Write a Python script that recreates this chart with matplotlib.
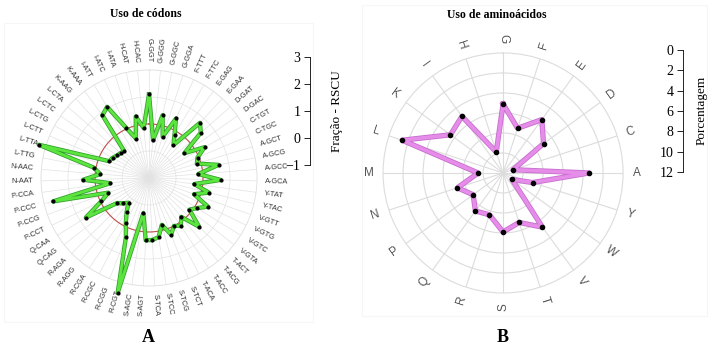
import matplotlib
matplotlib.use('Agg')

import matplotlib.pyplot as plt
import matplotlib.patheffects as pe
import numpy as np

# codon usage (RSCU), clockwise starting at the top
codons = ['G-GGT', 'G-GGG', 'G-GGC', 'G-GGA', 'F-TTT', 'F-TTC', 'E-GAG', 'E-GAA',
          'D-GAT', 'D-GAC', 'C-TGT', 'C-TGC', 'A-GCT', 'A-GCG', 'A-GCC', 'A-GCA',
          'Y-TAT', 'Y-TAC', 'V-GTT', 'V-GTG', 'V-GTC', 'V-GTA', 'T-ACT', 'T-ACG',
          'T-ACC', 'T-ACA', 'S-TCT', 'S-TCG', 'S-TCC', 'S-TCA', 'S-AGT', 'S-AGC',
          'R-CGT', 'R-CGG', 'R-CGC', 'R-CGA', 'R-AGG', 'R-AGA', 'Q-CAG', 'Q-CAA',
          'P-CCT', 'P-CCG', 'P-CCC', 'P-CCA', 'N-AAT', 'N-AAC', 'L-TTG', 'L-TTA',
          'L-CTT', 'L-CTG', 'L-CTC', 'L-CTA', 'K-AAG', 'K-AAA', 'I-ATT', 'I-ATC',
          'I-ATA', 'H-CAT', 'H-CAC']
rscu = [2.10, 0.41, 1.38, 0.61, 1.42, 0.86, 0.52, 1.78,
        1.55, 0.60, 1.35, 0.95, 0.85, 1.62, 0.83, 1.65,
        0.69, 1.28, 0.77, 1.43, 1.10, 0.90, 1.59, 0.87,
        1.13, 1.00, 1.25, 0.80, 1.22, 1.30, 1.31, 0.32,
        3.41, 1.35, 0.86, 0.50, 0.19, 0.35, 0.50, 1.76,
        0.96, 0.60, 2.66, 0.45, 1.44, 0.81, 1.09, 3.26,
        0.60, 0.54, 0.45, 0.40, 0.36, 1.89, 2.06, 1.03,
        0.54, 1.33, 0.86]
rscu_ref = 1.0
rscu_ticks = [3, 2, 1, 0, -1]

# amino acid usage (%), clockwise starting at the top
aminoacids = ['G', 'F', 'E', 'D', 'C', 'A', 'Y', 'W', 'V', 'T',
              'S', 'R', 'Q', 'P', 'N', 'M', 'L', 'K', 'I', 'H']
percent = [6.9, 4.7, 6.6, 5.0, 1.05, 8.6, 3.1, 1.1, 6.7, 5.2,
           5.9, 4.4, 4.7, 3.7, 4.8, 2.5, 10.6, 6.5, 7.0, 2.2]
pct_ticks = [0, 2, 4, 6, 8, 10, 12]

serif = 'Liberation Serif'
sans = 'Liberation Sans'

fig = plt.figure(figsize=(7.12, 3.49), dpi=100)

# faint panel frames
for x0, y0, x1, y1 in [(4, 23, 313, 322), (362, 5, 707, 316)]:
    fig.add_artist(plt.Rectangle((x0 / 712, 1 - y1 / 349), (x1 - x0) / 712,
                                 (y1 - y0) / 349, transform=fig.transFigure,
                                 fill=False, ec='#f6f6f6', lw=0.8))


def radial_labels(ax, labels, r, size, color, centered=False):
    n = len(labels)
    for i, lab in enumerate(labels):
        th = 360.0 * i / n
        if 0 < th < 180:
            rot, ha = 90 - th, 'left'
        else:
            rot, ha = 270 - th, 'right'
        if centered:
            ha = 'center'
        ax.text(np.deg2rad(th), r, lab, rotation=rot, rotation_mode='anchor',
                ha=ha, va='center', fontsize=size, color=color,
                family=sans, clip_on=False)


# ---- left: codons ----
ax1 = fig.add_axes([0.0576, 0.1805, 0.3034, 0.619], projection='polar')
ax1.set_theta_zero_location('N')
ax1.set_theta_direction(-1)
th1 = np.linspace(0, 2 * np.pi, len(codons), endpoint=False)
ax1.set_ylim(-1, 3)
ax1.set_xticks(th1)
ax1.set_xticklabels([])
ax1.set_yticks([0, 1, 2])
ax1.set_yticklabels([])
ax1.grid(True, color='#e2e2e2', lw=0.5)
ax1.spines['polar'].set_color('#dddddd')
ax1.spines['polar'].set_linewidth(0.6)

circ = np.linspace(0, 2 * np.pi, 300)
ax1.plot(circ, np.full_like(circ, rscu_ref), color='#c0504d', lw=0.8)

t1 = np.append(th1, th1[0])
v1 = np.append(rscu, rscu[0])
ax1.plot(t1, v1, color='#5ce43f', lw=2.0, clip_on=False, zorder=4,
         path_effects=[pe.Stroke(linewidth=3.1, foreground='#2f9e2a'), pe.Normal()])
ax1.plot(th1, rscu, 'o', color='black', ms=2.0, clip_on=False, zorder=5)
radial_labels(ax1, codons, 3.3, 5.3, '#333333')

# scale bar RSCU
s1 = fig.add_axes([0.4354, 0.5272, 0.0005, 0.3095])
s1.set_ylim(-1, 3)
s1.set_xticks([])
s1.set_yticks(rscu_ticks)
for sp in ['top', 'bottom', 'right']:
    s1.spines[sp].set_visible(False)
s1.spines['left'].set_linewidth(0.6)
s1.tick_params(axis='y', length=4, width=0.6, labelsize=10, pad=3)
for t in s1.get_yticklabels():
    t.set_family(serif)
fig.text(337 / 712, 1 - 111 / 349, 'Fração - RSCU', rotation=90, ha='center',
         va='center', fontsize=9.5, family=serif)

fig.text(146 / 712, 1 - 14 / 349, 'Uso de códons', ha='center', va='center',
         fontsize=8.5, family=serif, weight='bold')
fig.text(148 / 712, 1 - 338 / 349, 'A', ha='center', va='center',
         fontsize=13, family=serif, weight='bold')

# ---- right: amino acids ----
ax2 = fig.add_axes([0.538, 0.1605, 0.3371, 0.6877], projection='polar')
ax2.set_theta_zero_location('N')
ax2.set_theta_direction(-1)
th2 = np.linspace(0, 2 * np.pi, len(aminoacids), endpoint=False)
ax2.set_ylim(0, 12)
ax2.set_xticks(th2)
ax2.set_xticklabels([])
ax2.set_yticks([2, 4, 6, 8, 10])
ax2.set_yticklabels([])
ax2.grid(True, color='#dcdcdc', lw=0.8)
ax2.spines['polar'].set_color('#dcdcdc')
ax2.spines['polar'].set_linewidth(0.8)

t2 = np.append(th2, th2[0])
v2 = np.append(percent, percent[0])
ax2.plot(t2, v2, color='#e68ce9', lw=2.6, zorder=4,
         path_effects=[pe.Stroke(linewidth=3.8, foreground='#c76fcf'), pe.Normal()])
ax2.plot(th2, percent, 'o', color='black', ms=3.0, zorder=5)
radial_labels(ax2, aminoacids, 13.4, 8.5, '#555555', centered=True)

# scale bar percentage
s2 = fig.add_axes([0.9593, 0.5072, 0.0005, 0.3496])
s2.set_ylim(12, 0)
s2.set_xticks([])
s2.set_yticks(pct_ticks)
for sp in ['top', 'bottom', 'right']:
    s2.spines[sp].set_visible(False)
s2.spines['left'].set_linewidth(0.6)
s2.tick_params(axis='y', length=4, width=0.6, labelsize=10, pad=3)
for t in s2.get_yticklabels():
    t.set_family(serif)
fig.text(702 / 712, 1 - 110 / 349, 'Porcentagem', rotation=90, ha='center',
         va='center', fontsize=9.5, family=serif)

fig.text(497 / 712, 1 - 15 / 349, 'Uso de aminoácidos', ha='center', va='center',
         fontsize=8.5, family=serif, weight='bold')
fig.text(503 / 712, 1 - 338 / 349, 'B', ha='center', va='center',
         fontsize=13, family=serif, weight='bold')

fig.savefig('out.png', dpi=100)
